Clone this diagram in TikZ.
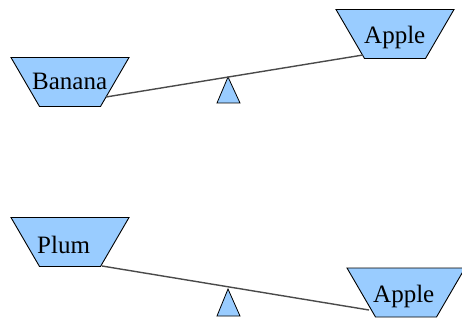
\documentclass[tikz,border=0pt]{standalone}
\usepackage{fontspec}
\setmainfont{Liberation Serif}
\definecolor{fruitfill}{HTML}{99CCFF}
\definecolor{beamgray}{HTML}{4A4A4A}
\tikzset{
  pan/.style={fill=fruitfill, draw=black, line width=0.9pt, line join=miter},
  fruit/.style={anchor=base west, inner sep=0pt, font=\fontsize{25}{29}\selectfont},
  fulcrum/.style={fill=fruitfill, draw=black, line width=0.8pt, line join=miter},
  beam/.style={draw=beamgray, line width=1.4pt}
}
\newcommand{\drawpan}[1]{%
  \draw[pan] ($(#1)+(-59,-24.5)$) -- ($(#1)+(59,-24.5)$) -- ($(#1)+(30.5,24.5)$) -- ($(#1)+(-30.5,24.5)$) -- cycle;}
\usetikzlibrary{calc}
\begin{document}
\begin{tikzpicture}[x=1pt,y=-1pt]
\useasboundingbox (0,0) rectangle (462,320);
% top scale
\coordinate (banana) at (70,82);
\coordinate (apple1) at (395,34);
\coordinate (plum) at (70,242);
\coordinate (apple2) at (406,292.5);
\drawpan{banana}
\drawpan{apple1}
\drawpan{plum}
\drawpan{apple2}
\node[fruit] (bananatext) at (32,90) {Banana};
\node[fruit] (apple1text) at (364,44) {Apple};
\draw[fulcrum] (228,77) -- (240,103) -- (217,103) -- cycle;
\coordinate (b1) at (106,97);
\coordinate (a1) at (363,55);
\draw[beam] (b1) -- (a1);
% bottom scale
\node[fruit] (plumtext) at (37,253) {Plum};
\node[fruit] (apple2text) at (373,302) {Apple};
\draw[fulcrum] (228,289) -- (240,316) -- (217,316) -- cycle;
\coordinate (b2) at (102,266);
\coordinate (a2) at (369,310);
\draw[beam] (b2) -- (a2);
\end{tikzpicture}
\end{document}
